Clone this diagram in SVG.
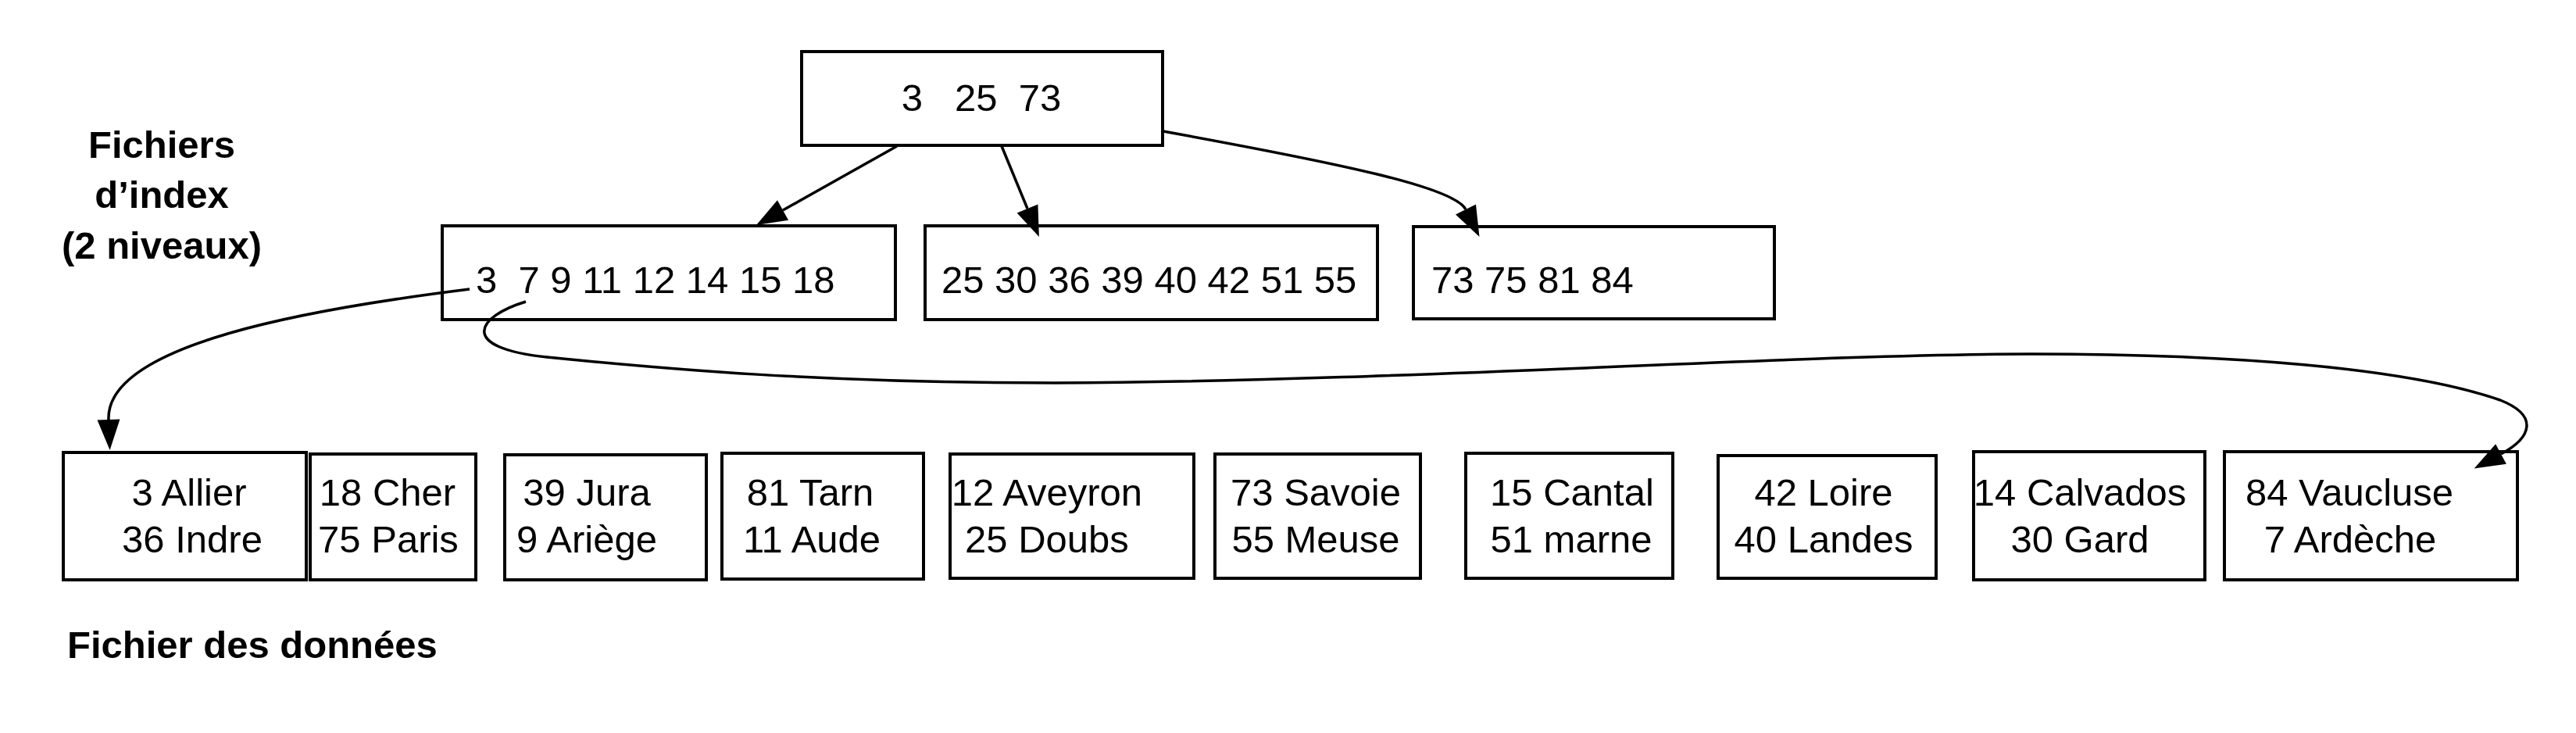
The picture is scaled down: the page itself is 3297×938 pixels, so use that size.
<svg xmlns="http://www.w3.org/2000/svg" width="3297" height="938" viewBox="0 0 3297 938">
<style>
.box{fill:#fff;stroke:#000;stroke-width:4}
.t{font-family:"Liberation Sans",Arial,Helvetica,sans-serif;font-size:49px;fill:#000}
.m{text-anchor:middle}
.b{font-weight:bold}
.c{fill:none;stroke:#000;stroke-width:3.5}
</style>
<defs>
<marker id="ah" markerUnits="userSpaceOnUse" markerWidth="40" markerHeight="30" refX="0" refY="14.5" orient="auto" overflow="visible">
<path d="M0,0 L39,14.5 L0,29 Z" fill="#000"/>
</marker>
</defs>
<rect width="3297" height="938" fill="#fff"/>

<g id="labels">
<text class="t b m" x="207" y="202">Fichiers</text>
<text class="t b m" x="207" y="266">d’index</text>
<text class="t b m" x="207" y="331">(2 niveaux)</text>
<text class="t b" x="86" y="842">Fichier des données</text>
</g>

<g id="root">
<rect class="box" x="1026" y="66" width="462" height="120"/>
<text class="t m" x="1256" y="142" xml:space="preserve">3   25  73</text>
</g>

<g id="idx1">
<rect class="box" x="566" y="289" width="580" height="120"/>
<text class="t" x="609" y="375" xml:space="preserve">3  7 9 11 12 14 15 18</text>
</g>
<g id="idx2">
<rect class="box" x="1184" y="289" width="579" height="120"/>
<text class="t" x="1205" y="375">25 30 36 39 40 42 51 55</text>
</g>
<g id="idx3">
<rect class="box" x="1809" y="290" width="462" height="118"/>
<text class="t" x="1832" y="375">73 75 81 84</text>
</g>

<g id="d1">
<rect class="box" x="81" y="579" width="311" height="163"/>
<text class="t m" x="242" y="647">3 Allier</text>
<text class="t m" x="246" y="707">36 Indre</text>
</g>
<g id="d2">
<rect class="box" x="397" y="581" width="212" height="161"/>
<text class="t m" x="496" y="647">18 Cher</text>
<text class="t m" x="497" y="707">75 Paris</text>
</g>
<g id="d3">
<rect class="box" x="646" y="582" width="258" height="160"/>
<text class="t m" x="751" y="647">39 Jura</text>
<text class="t m" x="751" y="707">9 Ariège</text>
</g>
<g id="d4">
<rect class="box" x="924" y="580" width="258" height="161"/>
<text class="t m" x="1037" y="647">81 Tarn</text>
<text class="t m" x="1039" y="707">11 Aude</text>
</g>
<g id="d5">
<rect class="box" x="1216" y="581" width="312" height="159"/>
<text class="t m" x="1340" y="647">12 Aveyron</text>
<text class="t m" x="1340" y="707">25 Doubs</text>
</g>
<g id="d6">
<rect class="box" x="1555" y="581" width="263" height="159"/>
<text class="t m" x="1684" y="647">73 Savoie</text>
<text class="t m" x="1684" y="707">55 Meuse</text>
</g>
<g id="d7">
<rect class="box" x="1876" y="580" width="265" height="160"/>
<text class="t m" x="2012" y="647">15 Cantal</text>
<text class="t m" x="2011" y="707">51 marne</text>
</g>
<g id="d8">
<rect class="box" x="2199" y="583" width="279" height="157"/>
<text class="t m" x="2334" y="647">42 Loire</text>
<text class="t m" x="2334" y="707">40 Landes</text>
</g>
<g id="d9">
<rect class="box" x="2526" y="578" width="296" height="164"/>
<text class="t m" x="2662" y="647">14 Calvados</text>
<text class="t m" x="2662" y="707">30 Gard</text>
</g>
<g id="d10">
<rect class="box" x="2847" y="578" width="375" height="164"/>
<text class="t m" x="3007" y="647">84 Vaucluse</text>
<text class="t m" x="3008" y="707">7 Ardèche</text>
</g>

<g id="connectors">
<path class="c" d="M1148 187 L1002 269" marker-end="url(#ah)"/>
<path class="c" d="M1282 187 L1315 267" marker-end="url(#ah)"/>
<path class="c" d="M1489 168 C1720 210 1862 240 1876 268" marker-end="url(#ah)"/>
<path class="c" d="M601 370 C400 395 135 440 139 537" marker-end="url(#ah)"/>
<path class="c" d="M673 386 C610 405 585 445 700 457 C850 472 1050 490 1350 490 C1800 488 2300 453 2600 453 C2850 453 3080 470 3200 512 C3250 532 3240 560 3201 581" marker-end="url(#ah)"/>
</g>
</svg>
